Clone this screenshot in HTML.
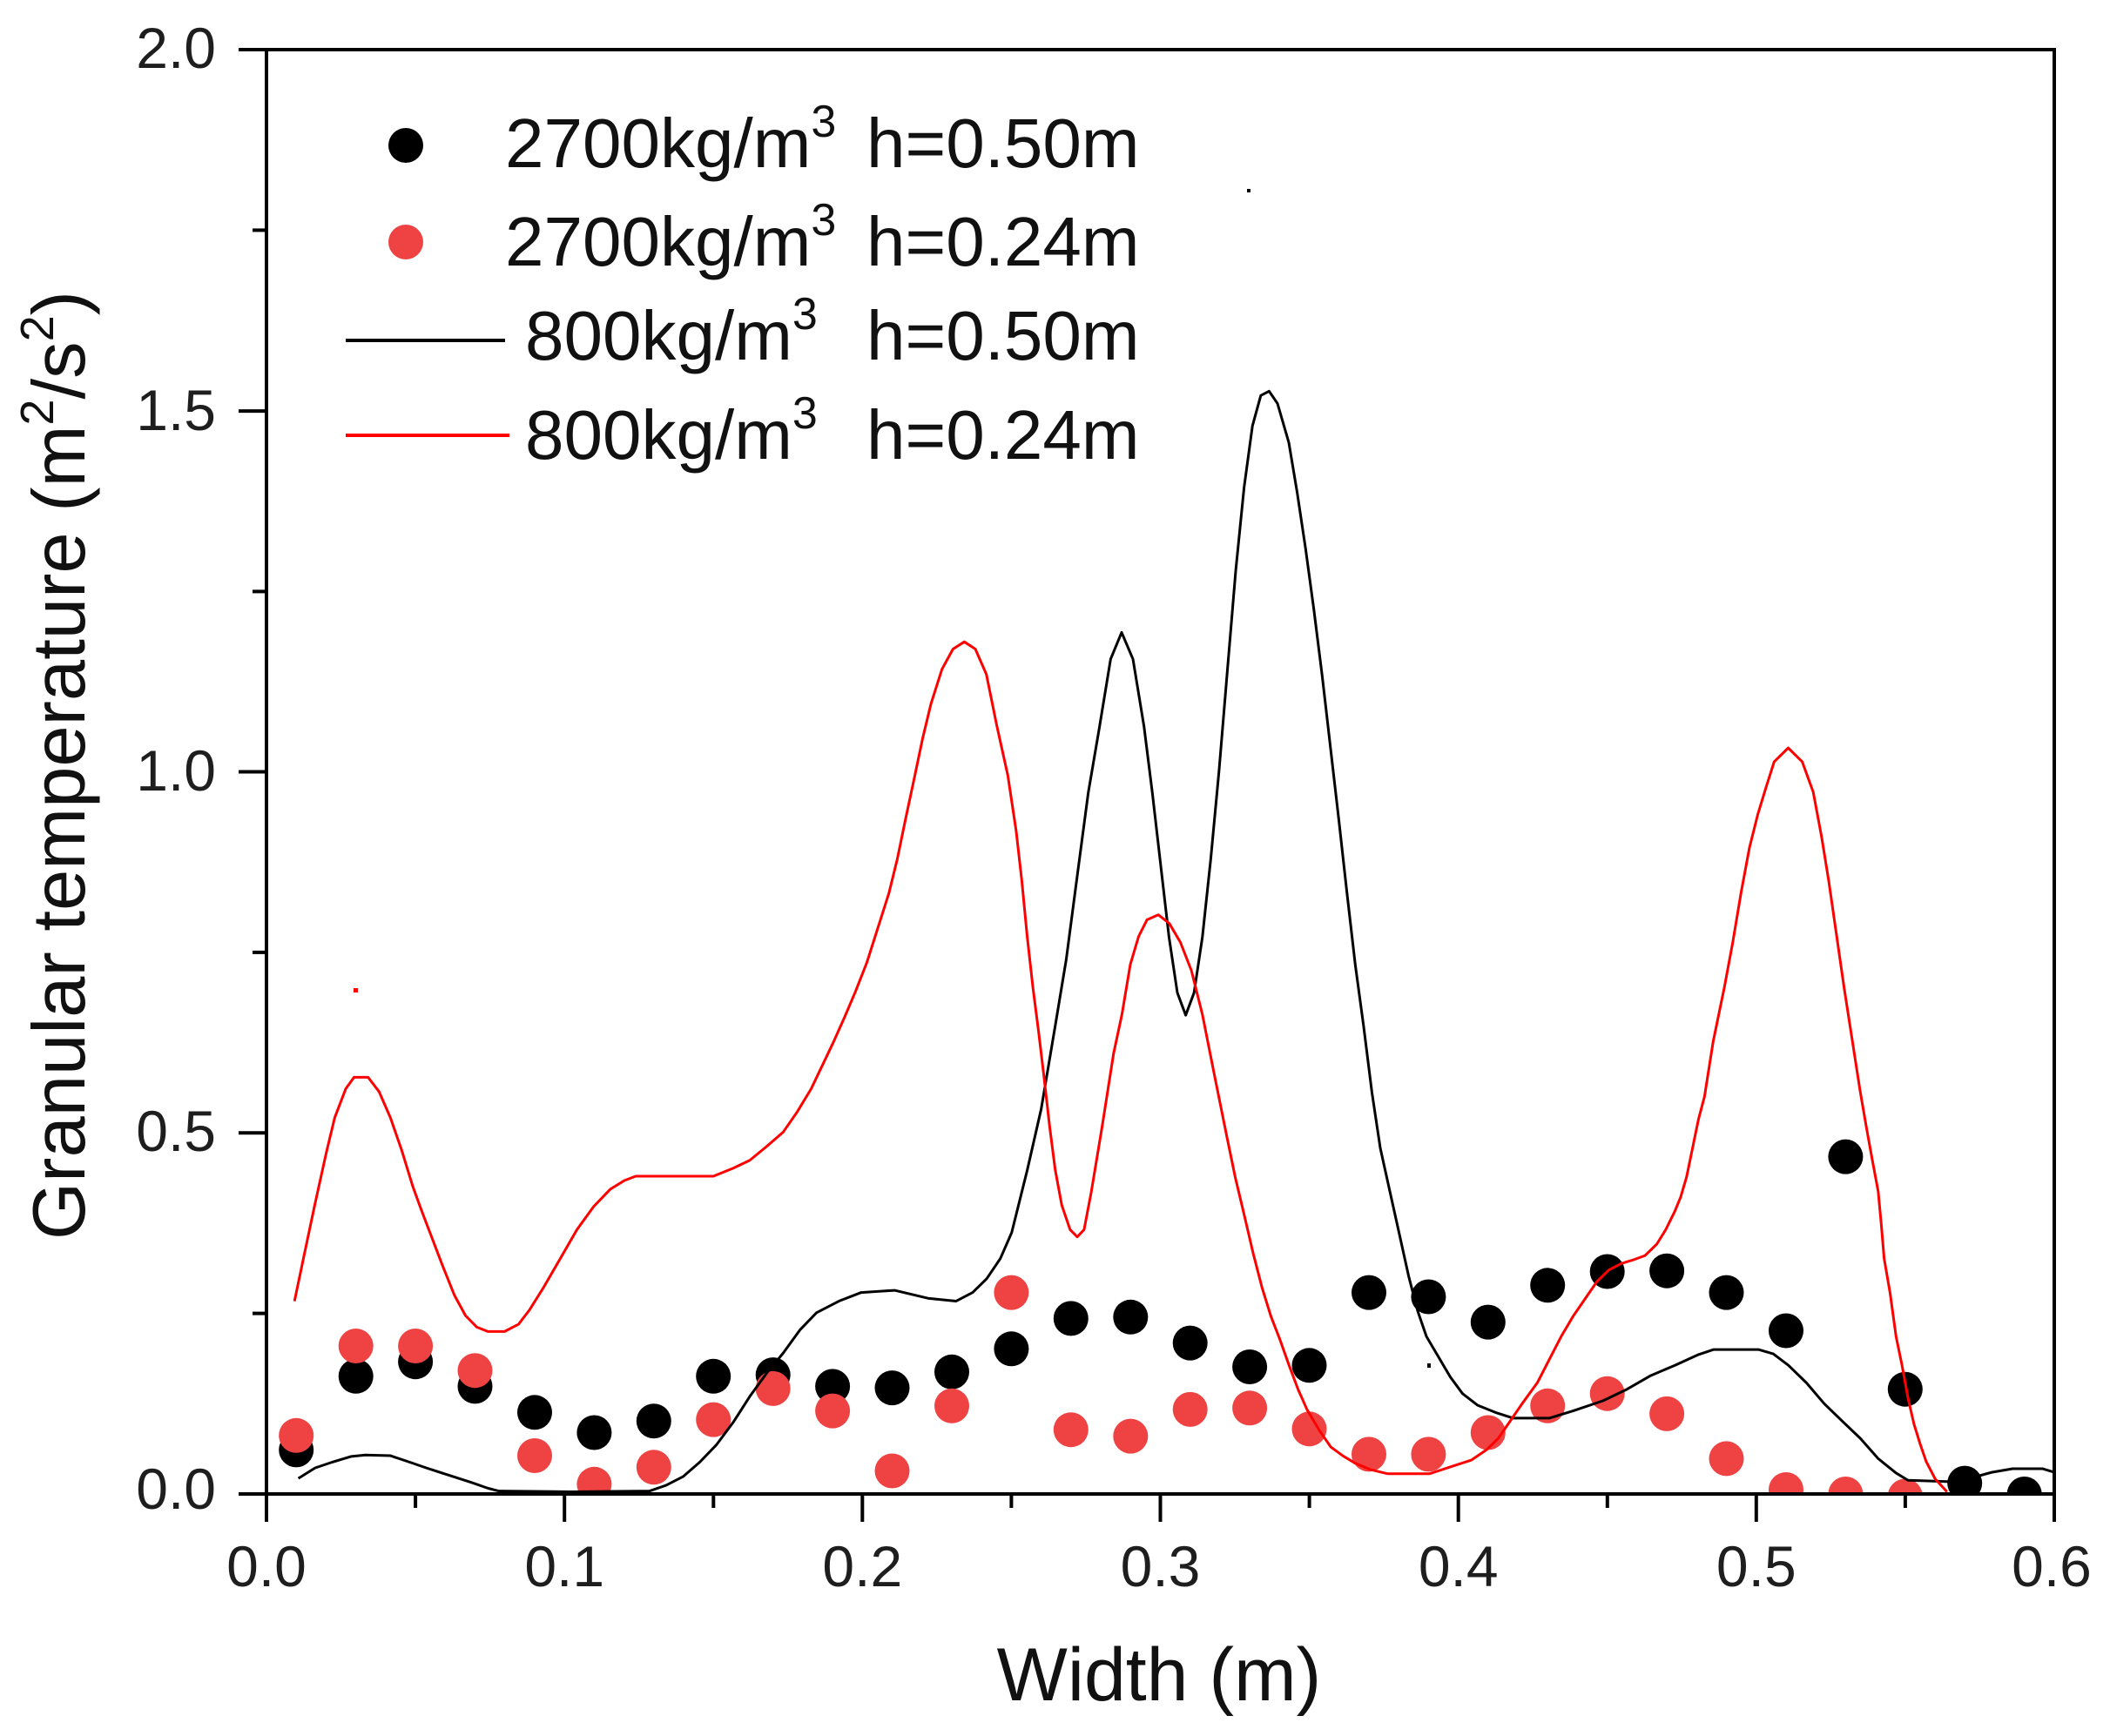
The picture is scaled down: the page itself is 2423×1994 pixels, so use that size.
<!DOCTYPE html>
<html>
<head>
<meta charset="utf-8">
<style>
html,body{margin:0;padding:0;background:#fff;}
svg{display:block;}
text{font-family:"Liberation Sans",Arial,sans-serif;}
</style>
</head>
<body>
<svg width="2423" height="1994" viewBox="0 0 2423 1994" xmlns="http://www.w3.org/2000/svg">
<rect x="0" y="0" width="2423" height="1994" fill="#fff"/>
<defs>
<clipPath id="pa"><rect x="306" y="57" width="2053" height="1659"/></clipPath>
</defs>

<!-- scatter: black (2700 h=0.50) -->
<g clip-path="url(#pa)" fill="#000">
<circle cx="340.2" cy="1665.4" r="20"/>
<circle cx="408.7" cy="1580.8" r="20"/>
<circle cx="477.1" cy="1564.2" r="20"/>
<circle cx="545.5" cy="1592.4" r="20"/>
<circle cx="614.0" cy="1622.3" r="20"/>
<circle cx="682.4" cy="1645.5" r="20"/>
<circle cx="750.8" cy="1632.2" r="20"/>
<circle cx="819.2" cy="1580.8" r="20"/>
<circle cx="887.7" cy="1579.1" r="20"/>
<circle cx="956.1" cy="1592.4" r="20"/>
<circle cx="1024.5" cy="1594.1" r="20"/>
<circle cx="1093.0" cy="1575.8" r="20"/>
<circle cx="1161.4" cy="1549.3" r="20"/>
<circle cx="1229.8" cy="1514.4" r="20"/>
<circle cx="1298.3" cy="1512.8" r="20"/>
<circle cx="1366.7" cy="1542.6" r="20"/>
<circle cx="1435.1" cy="1570.0" r="20"/>
<circle cx="1503.5" cy="1568.3" r="20"/>
<circle cx="1572.0" cy="1484.6" r="20"/>
<circle cx="1640.4" cy="1489.5" r="20"/>
<circle cx="1708.8" cy="1518.6" r="20"/>
<circle cx="1777.2" cy="1476.3" r="20"/>
<circle cx="1845.7" cy="1460.5" r="20"/>
<circle cx="1914.1" cy="1459.7" r="20"/>
<circle cx="1982.5" cy="1484.6" r="20"/>
<circle cx="2051.0" cy="1528.5" r="20"/>
<circle cx="2119.4" cy="1328.6" r="20"/>
<circle cx="2187.8" cy="1595.7" r="20"/>
<circle cx="2256.2" cy="1703.6" r="20"/>
<circle cx="2324.7" cy="1716" r="20"/>
</g>

<!-- scatter: red (2700 h=0.24) -->
<g clip-path="url(#pa)" fill="#ef4343">
<circle cx="340.2" cy="1648.8" r="20"/>
<circle cx="408.7" cy="1546.0" r="20"/>
<circle cx="477.1" cy="1546.0" r="20"/>
<circle cx="545.5" cy="1574.2" r="20"/>
<circle cx="614.0" cy="1672.0" r="20"/>
<circle cx="682.4" cy="1704.8" r="20"/>
<circle cx="750.8" cy="1685.3" r="20"/>
<circle cx="819.2" cy="1630.6" r="20"/>
<circle cx="887.7" cy="1594.9" r="20"/>
<circle cx="956.1" cy="1620.6" r="20"/>
<circle cx="1024.5" cy="1689.5" r="20"/>
<circle cx="1093.0" cy="1614.8" r="20"/>
<circle cx="1161.4" cy="1484.6" r="20"/>
<circle cx="1229.8" cy="1642.2" r="20"/>
<circle cx="1298.3" cy="1649.6" r="20"/>
<circle cx="1366.7" cy="1618.9" r="20"/>
<circle cx="1435.1" cy="1617.3" r="20"/>
<circle cx="1503.5" cy="1641.3" r="20"/>
<circle cx="1572.0" cy="1670.4" r="20"/>
<circle cx="1640.4" cy="1670.4" r="20"/>
<circle cx="1708.8" cy="1645.5" r="20"/>
<circle cx="1777.2" cy="1614.8" r="20"/>
<circle cx="1845.7" cy="1600.7" r="20"/>
<circle cx="1914.1" cy="1623.9" r="20"/>
<circle cx="1982.5" cy="1675.4" r="20"/>
<circle cx="2051.0" cy="1711.0" r="20"/>
<circle cx="2119.4" cy="1716" r="20"/>
<circle cx="2187.8" cy="1718.5" r="20"/>
</g>

<!-- lines in data space -->
<g transform="translate(306,1716) scale(3421.7,-829.5)" fill="none" stroke-linejoin="round" stroke-linecap="butt">
<path vector-effect="non-scaling-stroke" stroke="#000" stroke-width="3" d="M0.0107,0.0215 L0.0163,0.036 L0.022,0.044 L0.0285,0.052 L0.0332,0.054 L0.0416,0.053 L0.0481,0.044 L0.0537,0.036 L0.0612,0.026 L0.0687,0.016 L0.0743,0.008 L0.078,0.004 L0.1024,0.003 L0.1285,0.004 L0.1341,0.012 L0.1398,0.024 L0.1454,0.044 L0.151,0.068 L0.1566,0.099 L0.1622,0.135 L0.1678,0.167 L0.1734,0.195 L0.179,0.227 L0.1846,0.251 L0.1921,0.267 L0.1996,0.279 L0.2108,0.282 L0.222,0.271 L0.2314,0.267 L0.237,0.279 L0.2417,0.298 L0.2463,0.326 L0.2501,0.362 L0.2553,0.448 L0.26,0.533 L0.2647,0.648 L0.2684,0.740 L0.2721,0.856 L0.2758,0.971 L0.2796,1.063 L0.2833,1.156 L0.2870,1.193 L0.2908,1.156 L0.2945,1.063 L0.2973,0.971 L0.3001,0.871 L0.3029,0.771 L0.3057,0.694 L0.3085,0.663 L0.3113,0.694 L0.3141,0.771 L0.3169,0.879 L0.3197,1.002 L0.3225,1.141 L0.3253,1.279 L0.3281,1.394 L0.3309,1.479 L0.3337,1.521 L0.3365,1.527 L0.3393,1.510 L0.3431,1.456 L0.3459,1.387 L0.3487,1.310 L0.3515,1.225 L0.3543,1.133 L0.3571,1.033 L0.3599,0.933 L0.3626,0.833 L0.3654,0.733 L0.3682,0.648 L0.3710,0.556 L0.3738,0.479 L0.3775,0.410 L0.3803,0.358 L0.3833,0.302 L0.3863,0.254 L0.3893,0.218 L0.3933,0.190 L0.3973,0.162 L0.4014,0.139 L0.4064,0.123 L0.4124,0.113 L0.4184,0.105 L0.4305,0.105 L0.4385,0.115 L0.4485,0.129 L0.4566,0.145 L0.4646,0.164 L0.4726,0.178 L0.4806,0.193 L0.4857,0.200 L0.5007,0.200 L0.5057,0.194 L0.5108,0.178 L0.5168,0.154 L0.5228,0.125 L0.5288,0.101 L0.5349,0.077 L0.5409,0.049 L0.5469,0.029 L0.5509,0.019 L0.565,0.017 L0.572,0.022 L0.579,0.030 L0.586,0.035 L0.596,0.035 L0.6,0.030"/>
<path vector-effect="non-scaling-stroke" stroke="#ff0000" stroke-width="3" d="M0.0094,0.267 L0.0126,0.330 L0.0163,0.402 L0.0201,0.473 L0.0229,0.521 L0.0266,0.561 L0.0294,0.577 L0.0341,0.577 L0.0378,0.557 L0.0416,0.521 L0.0453,0.477 L0.0491,0.426 L0.0519,0.394 L0.0556,0.354 L0.0593,0.314 L0.0631,0.275 L0.0668,0.247 L0.0706,0.231 L0.0743,0.225 L0.0799,0.225 L0.0846,0.235 L0.0883,0.255 L0.093,0.286 L0.0986,0.326 L0.1042,0.366 L0.1098,0.398 L0.1154,0.422 L0.1201,0.434 L0.1239,0.440 L0.15,0.440 L0.1566,0.451 L0.1622,0.462 L0.1678,0.481 L0.1734,0.501 L0.1781,0.529 L0.1828,0.561 L0.1865,0.593 L0.1902,0.625 L0.194,0.660 L0.1977,0.696 L0.2015,0.736 L0.2052,0.784 L0.2089,0.832 L0.2117,0.879 L0.2145,0.935 L0.2174,0.991 L0.2202,1.046 L0.223,1.094 L0.2267,1.142 L0.2304,1.170 L0.2342,1.180 L0.2379,1.170 L0.2416,1.135 L0.2451,1.064 L0.2488,0.995 L0.2516,0.918 L0.2535,0.849 L0.2553,0.772 L0.2572,0.702 L0.2591,0.641 L0.2609,0.579 L0.2628,0.510 L0.2647,0.449 L0.2669,0.400 L0.2697,0.366 L0.2721,0.356 L0.2744,0.366 L0.2768,0.418 L0.2805,0.510 L0.2843,0.610 L0.2871,0.664 L0.2899,0.733 L0.2927,0.772 L0.2955,0.795 L0.2993,0.802 L0.303,0.790 L0.3067,0.764 L0.3104,0.725 L0.3141,0.664 L0.3178,0.587 L0.3221,0.499 L0.3251,0.439 L0.3281,0.387 L0.3311,0.334 L0.3341,0.286 L0.3371,0.246 L0.3401,0.214 L0.3432,0.178 L0.3462,0.145 L0.3492,0.117 L0.3532,0.089 L0.3572,0.065 L0.3612,0.053 L0.3652,0.043 L0.3703,0.034 L0.3763,0.028 L0.3903,0.028 L0.3984,0.039 L0.4044,0.047 L0.4094,0.061 L0.4134,0.077 L0.4174,0.101 L0.4214,0.125 L0.4265,0.154 L0.4305,0.186 L0.4345,0.218 L0.4385,0.246 L0.4425,0.270 L0.4465,0.294 L0.4505,0.310 L0.4546,0.319 L0.4586,0.324 L0.4626,0.330 L0.4666,0.346 L0.4696,0.366 L0.4726,0.391 L0.4746,0.411 L0.4766,0.439 L0.4786,0.479 L0.4806,0.519 L0.4826,0.550 L0.4855,0.626 L0.4893,0.702 L0.4921,0.764 L0.4949,0.833 L0.4977,0.895 L0.5005,0.941 L0.5033,0.979 L0.506,1.014 L0.5107,1.033 L0.5154,1.014 L0.5191,0.972 L0.5219,0.910 L0.5243,0.849 L0.5295,0.700 L0.5348,0.559 L0.5368,0.511 L0.5389,0.463 L0.5409,0.419 L0.5419,0.375 L0.5429,0.326 L0.5449,0.278 L0.5469,0.218 L0.5489,0.178 L0.5509,0.133 L0.5529,0.097 L0.555,0.069 L0.557,0.045 L0.560,0.021 L0.564,0.003"/>
</g>

<!-- stray pixels -->
<rect x="1432" y="217" width="4" height="4" fill="#000"/>
<rect x="406" y="1135" width="5" height="5" fill="#ff0000"/>
<rect x="1639" y="1566" width="4" height="5" fill="#000"/>

<!-- axes -->
<g stroke="#000" stroke-width="4" fill="none" stroke-linecap="butt">
<line x1="306" y1="55" x2="306" y2="1748"/>
<line x1="2359" y1="55" x2="2359" y2="1748"/>
<line x1="274" y1="57" x2="2361" y2="57"/>
<line x1="274" y1="1716" x2="2361" y2="1716"/>
<line x1="648.2" y1="1716" x2="648.2" y2="1748"/>
<line x1="990.3" y1="1716" x2="990.3" y2="1748"/>
<line x1="1332.5" y1="1716" x2="1332.5" y2="1748"/>
<line x1="1674.7" y1="1716" x2="1674.7" y2="1748"/>
<line x1="2016.8" y1="1716" x2="2016.8" y2="1748"/>
<line x1="477.1" y1="1716" x2="477.1" y2="1732"/>
<line x1="819.3" y1="1716" x2="819.3" y2="1732"/>
<line x1="1161.4" y1="1716" x2="1161.4" y2="1732"/>
<line x1="1503.6" y1="1716" x2="1503.6" y2="1732"/>
<line x1="1845.8" y1="1716" x2="1845.8" y2="1732"/>
<line x1="2187.9" y1="1716" x2="2187.9" y2="1732"/>
<line x1="274" y1="472.1" x2="306" y2="472.1"/>
<line x1="274" y1="886.5" x2="306" y2="886.5"/>
<line x1="274" y1="1301.3" x2="306" y2="1301.3"/>
<line x1="290" y1="264.4" x2="306" y2="264.4"/>
<line x1="290" y1="679.4" x2="306" y2="679.4"/>
<line x1="290" y1="1093.9" x2="306" y2="1093.9"/>
<line x1="290" y1="1508.6" x2="306" y2="1508.6"/>
</g>

<!-- y tick labels -->
<g font-size="66" fill="#1e1e1e" text-anchor="end">
<text x="248" y="78">2.0</text>
<text x="248" y="494">1.5</text>
<text x="248" y="908">1.0</text>
<text x="248" y="1322">0.5</text>
<text x="248" y="1733">0.0</text>
</g>
<!-- x tick labels -->
<g font-size="66" fill="#1e1e1e" text-anchor="middle">
<text x="306" y="1822">0.0</text>
<text x="648.2" y="1822">0.1</text>
<text x="990.3" y="1822">0.2</text>
<text x="1332.5" y="1822">0.3</text>
<text x="1674.7" y="1822">0.4</text>
<text x="2016.8" y="1822">0.5</text>
<text x="2356" y="1822">0.6</text>
</g>

<!-- axis titles -->
<text x="1331" y="1953" font-size="86" text-anchor="middle" fill="#111">Width (m)</text>
<text transform="translate(97,879) rotate(-90)" font-size="85" text-anchor="middle" fill="#111">Granular temperature (m<tspan font-size="54" dy="-36">2</tspan><tspan dy="36">/s</tspan><tspan font-size="54" dy="-36">2</tspan><tspan dy="36">)</tspan></text>

<!-- legend -->
<circle cx="466" cy="167" r="20" fill="#000"/>
<circle cx="466" cy="278" r="20" fill="#ef4343"/>
<line x1="397" y1="391" x2="580" y2="391" stroke="#000" stroke-width="4"/>
<line x1="397" y1="500" x2="585" y2="500" stroke="#ff0000" stroke-width="4"/>
<g font-size="80" fill="#111">
<text x="580" y="192">2700kg/m<tspan font-size="52" dy="-35">3</tspan></text>
<text x="995" y="192">h=0.50m</text>
<text x="580" y="305">2700kg/m<tspan font-size="52" dy="-35">3</tspan></text>
<text x="995" y="305">h=0.24m</text>
<text x="603" y="413">800kg/m<tspan font-size="52" dy="-35">3</tspan></text>
<text x="995" y="413">h=0.50m</text>
<text x="603" y="527">800kg/m<tspan font-size="52" dy="-35">3</tspan></text>
<text x="995" y="527">h=0.24m</text>
</g>
</svg>
</body>
</html>
